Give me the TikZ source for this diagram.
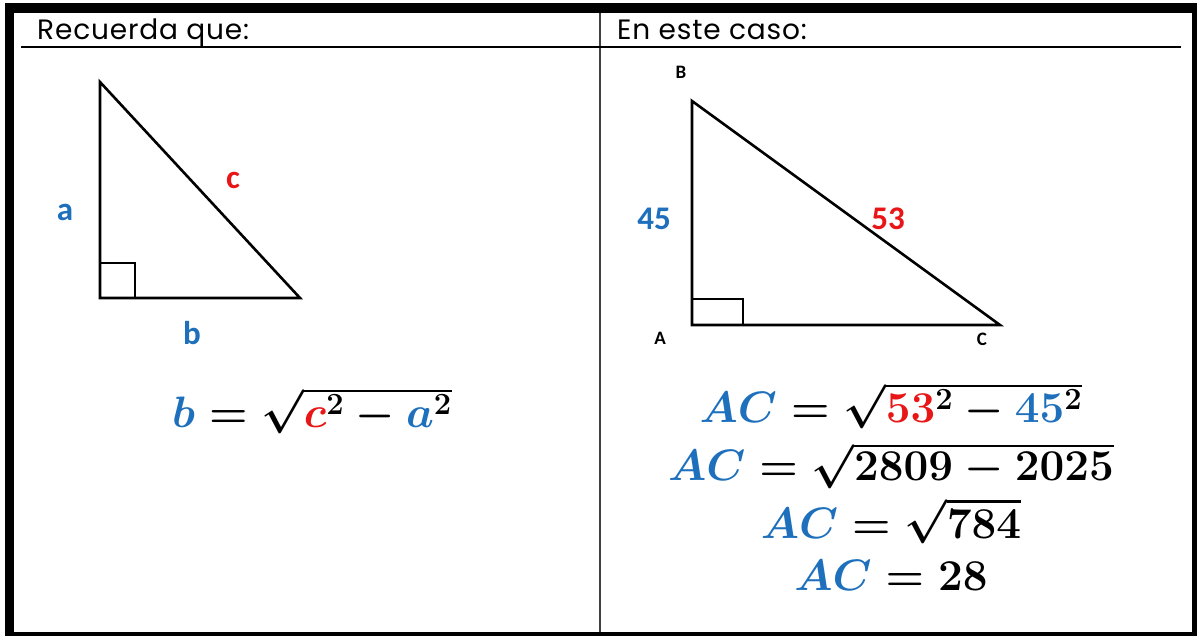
\RequirePackage{fix-cm}
\documentclass[tikz,border=0pt]{standalone}
\usepackage{amsmath}
\usepackage{fontspec}
\newfontfamily\gothic{Poppins}[LetterSpace=3]
\newfontfamily\calibri{Carlito}
\definecolor{lblue}{RGB}{30,112,188}
\definecolor{lred}{RGB}{232,22,22}
\newcommand{\bl}[1]{{\color{lblue}#1}}
\newcommand{\rd}[1]{{\color{lred}#1}}
\tikzset{
  frameline/.style={line width=1.5pt,black},
  triline/.style={line width=2.6pt,black,line join=miter},
  rightmark/.style={line width=2pt,black},
  header/.style={font=\gothic\fontsize{28}{32}\selectfont,anchor=base west,inner sep=0pt},
  sidelbl/.style={font=\calibri\bfseries\fontsize{33}{36}\selectfont,inner sep=0pt},
  vertlbl/.style={font=\calibri\bfseries\fontsize{19}{22}\selectfont,inner sep=0pt},
  eq/.style={font=\fontsize{44}{50}\selectfont\boldmath,anchor=base,inner sep=0pt}
}
\begin{document}
\begin{tikzpicture}[x=1pt,y=-1pt]
\useasboundingbox (0,0) rectangle (1200,637);
\fill[white] (0,0) rectangle (1200,637);
% frame
\fill[black] (5,3) rectangle (1197,636);
\fill[white] (14,13) rectangle (1192,632);
\coordinate (dtop) at (600,13);
\coordinate (dbot) at (600,632);
\draw[line width=1.2pt,black!75] (dtop) -- (dbot);
\coordinate (hl) at (21,47);
\coordinate (hr) at (1181,47);
\draw[frameline] (hl) -- (hr);
% headers
\node[header] (h1) at (37,39) {Recuerda que:};
\node[header] (h2) at (617,39) {En este caso:};
% left triangle
\coordinate (L1) at (100,82);
\coordinate (L2) at (100,298);
\coordinate (L3) at (300,298);
\draw[triline] (L1) -- (L2) -- (L3) -- cycle;
\coordinate (LS) at (135,263);
\draw[rightmark] (L2) rectangle (LS);
\node[sidelbl,text=lblue] (la) at (65,212) {a};
\node[sidelbl,text=lred] (lc) at (233,180) {c};
\node[sidelbl,text=lblue] (lb) at (192,333) {b};
% right triangle
\coordinate (B) at (692,101);
\coordinate (A) at (692,325);
\coordinate (C) at (1000,325);
\draw[triline] (B) -- (A) -- (C) -- cycle;
\coordinate (RS) at (743,299);
\draw[rightmark] (A) rectangle (RS);
\node[vertlbl] (nb) at (681,72) {B};
\node[vertlbl] (na) at (660,338) {A};
\node[vertlbl] (nc) at (982,339) {C};
\node[sidelbl,text=lblue] (n45) at (654,219) {45};
\node[sidelbl,text=lred] (n53) at (888,219) {53};
% equations
\node[eq] (e0) at (312,427) {$\bl{b} = \sqrt{\rd{c}^2 - \bl{a}^2}$};
\node[eq] (e1) at (891,422) {$\bl{AC} = \sqrt{\rd{53}^2 - \bl{45}^2}$};
\node[eq] (e2) at (891,480) {$\bl{AC} = \sqrt{2809 - 2025}$};
\node[eq] (e3) at (891,538) {$\bl{AC} = \sqrt{784}$};
\node[eq] (e4) at (891,590) {$\bl{AC} = 28$};
\end{tikzpicture}
\end{document}
